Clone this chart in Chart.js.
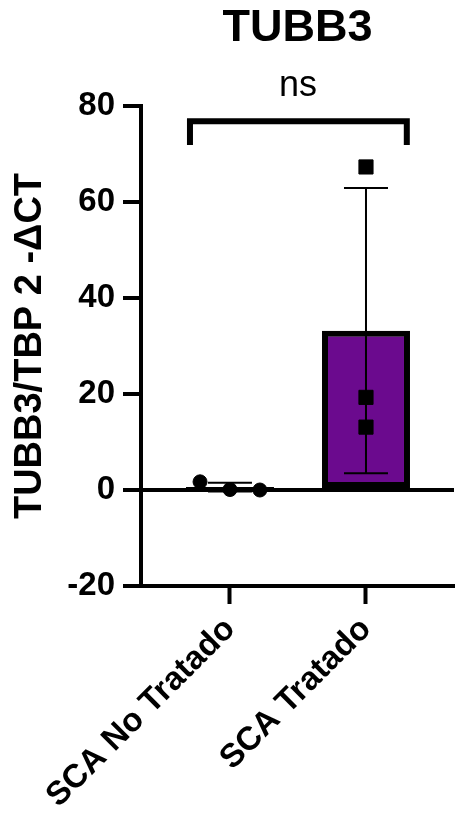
<!DOCTYPE html>
<html>
<head>
<meta charset="utf-8">
<script src="https://cdn.jsdelivr.net/npm/chart.js@4.4.0/dist/chart.umd.min.js"></script>
<style>
  html, body { margin: 0; padding: 0; background: #fff; overflow: hidden; }
  #wrap { width: 456px; height: 833px; position: relative; }
  canvas { display: block; }
</style>
</head>
<body>
<div id="wrap"><canvas id="grafico"></canvas></div>
<script>
// ---------------- Dados ----------------
const categorias = ['SCA No Tratado', 'SCA Tratado'];
const posicoes = [1, 2];
const medias = [0.6, 33.2];
const desvios = [0.9, 29.7];
const pontosNoTratadoX = [0.78, 1.0, 1.22];
const pontosNoTratadoY = [1.7, 0.1, 0.0];
const pontosTratadoX = [2, 2, 2];
const pontosTratadoY = [67.3, 19.3, 13.1];
const ticksY = [-20, 0, 20, 40, 60, 80];
const chaveX = [0.706, 0.706, 2.30, 2.30];
const chaveY = [71.9, 76.8, 76.8, 71.9];
const significancia = { texto: 'ns', x: 1.5, y: 84.2 };

const roxo = '#6b0a8e';
const fonte = 'Liberation Sans, Arial, Helvetica, sans-serif';

// barras de erro (media +- DP), desenhadas por cima da barra
const erroPlugin = {
    id: 'erro',
    afterDatasetDraw(chart, args) {
        if (args.index !== 0) return;
        const { ctx, scales: { x, y } } = chart;
        ctx.save();
        ctx.strokeStyle = '#000';
        ctx.lineWidth = 2;
        posicoes.forEach((p, i) => {
            const px = x.getPixelForValue(p);
            const top = y.getPixelForValue(medias[i] + desvios[i]);
            const bot = y.getPixelForValue(medias[i] - desvios[i]);
            ctx.beginPath();
            ctx.moveTo(px, top); ctx.lineTo(px, bot);
            ctx.moveTo(px - 22, top); ctx.lineTo(px + 22, top);
            ctx.moveTo(px - 22, bot); ctx.lineTo(px + 22, bot);
            ctx.stroke();
        });
        ctx.restore();
    },
    afterDraw(chart) {
        const { ctx, scales: { x, y } } = chart;
        ctx.save();
        ctx.fillStyle = '#000';
        ctx.font = `36px ${fonte}`;
        ctx.textAlign = 'center';
        ctx.textBaseline = 'middle';
        ctx.fillText(significancia.texto, x.getPixelForValue(significancia.x), y.getPixelForValue(significancia.y));
        ctx.restore();
    }
};

new Chart(document.getElementById('grafico'), {
    data: {
        datasets: [
            {
                type: 'bar',
                data: posicoes.map((p, i) => ({ x: p, y: medias[i] })),
                backgroundColor: ['#000', roxo],
                borderColor: '#000',
                borderWidth: 6,
                borderSkipped: false,
                barThickness: 88,
                inflateAmount: 0,
                order: 3
            },
            {
                type: 'line',
                data: chaveX.map((v, i) => ({ x: v, y: chaveY[i] })),
                borderColor: '#000',
                borderWidth: 6,
                borderJoinStyle: 'miter',
                borderCapStyle: 'butt',
                pointRadius: 0,
                fill: false,
                clip: false,
                order: 2
            },
            {
                type: 'scatter',
                data: pontosNoTratadoX.map((v, i) => ({ x: v, y: pontosNoTratadoY[i] })),
                pointStyle: 'circle',
                pointRadius: 7,
                backgroundColor: '#000',
                borderColor: '#000',
                order: 1
            },
            {
                type: 'scatter',
                data: pontosTratadoX.map((v, i) => ({ x: v, y: pontosTratadoY[i] })),
                pointStyle: 'rect',
                pointRadius: 10,
                backgroundColor: '#000',
                borderColor: '#000',
                order: 1
            }
        ]
    },
    plugins: [erroPlugin],
    options: {
        responsive: true,
        maintainAspectRatio: false,
        animation: false,
        layout: { autoPadding: false, padding: { left: 0, right: 2, top: 0, bottom: 0 } },
        plugins: {
            legend: { display: false },
            tooltip: { enabled: false },
            title: {
                display: true,
                text: 'TUBB3',
                fullSize: false,
                color: '#000',
                font: { family: fonte, size: 45, weight: 'bold' },
                padding: { top: 2, bottom: 50 }
            }
        },
        scales: {
            x: {
                type: 'linear',
                offset: false,
                min: 0.346,
                max: 2.647,
                afterBuildTicks: (s) => { s.ticks = posicoes.map(v => ({ value: v })); },
                afterFit: (s) => { s.height = 247; s.paddingLeft = 0; s.paddingRight = 0; },
                border: { display: true, color: '#000', width: 4 },
                grid: { offset: false, drawOnChartArea: false, drawTicks: true, tickLength: 18, tickWidth: 4, tickColor: '#000' },
                ticks: {
                    autoSkip: false,
                    minRotation: 45,
                    maxRotation: 45,
                    padding: 6,
                    color: '#000',
                    font: { family: fonte, size: 33, weight: 'bold' },
                    callback: (v) => categorias[posicoes.indexOf(v)] ?? ''
                }
            },
            y: {
                min: -20,
                max: 80,
                afterBuildTicks: (s) => { s.ticks = ticksY.map(v => ({ value: v })); },
                afterFit: (s) => { s.width = 141; },
                border: { display: true, color: '#000', width: 4 },
                grid: {
                    drawOnChartArea: true,
                    color: (c) => (c.tick && c.tick.value === 0 ? '#000' : 'rgba(0,0,0,0)'),
                    lineWidth: 4,
                    drawTicks: true,
                    tickLength: 18,
                    tickWidth: 4,
                    tickColor: '#000'
                },
                ticks: {
                    padding: 8,
                    color: '#000',
                    font: { family: fonte, size: 33, weight: 'bold' }
                },
                title: {
                    display: true,
                    text: 'TUBB3/TBP 2 -\u0394CT',
                    color: '#000',
                    font: { family: fonte, size: 38, weight: 'bold' },
                    padding: { top: 8, bottom: 4 }
                }
            }
        }
    }
});
</script>
</body>
</html>
